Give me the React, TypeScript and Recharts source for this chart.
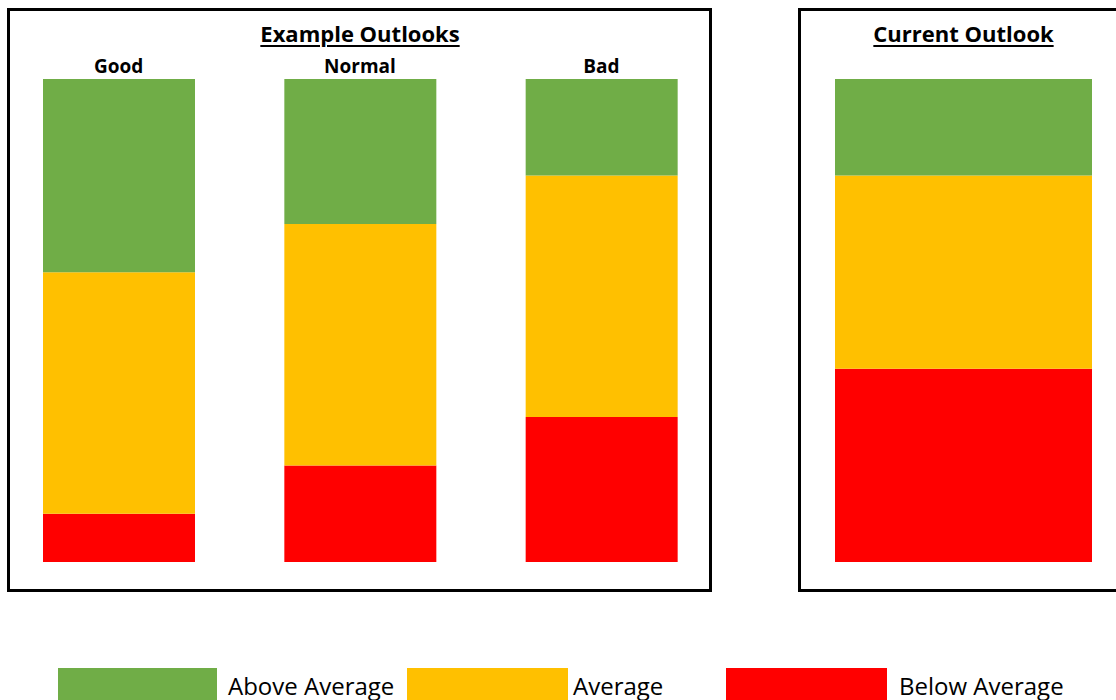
import React from 'react';
import { BarChart, Bar, XAxis, YAxis } from 'recharts';

// outlook scenarios, % of each band
const exampleCategories = ['Good', 'Normal', 'Bad'];
const exampleBelow = [10, 20, 30];
const exampleAverage = [50, 50, 50];
const exampleAbove = [40, 30, 20];

const currentCategories = ['Current'];
const currentBelow = [40];
const currentAverage = [40];
const currentAbove = [20];

const seriesNames = ['Above Average', 'Average', 'Below Average'];
const seriesColors = ['#70AD47', '#FFC000', '#FF0000'];

const FONT = '"Open Sans", "Noto Sans", sans-serif';

const buildRows = (cats: string[], below: number[], avg: number[], above: number[]) =>
    cats.map((name, i) => ({ name, below: below[i], average: avg[i], above: above[i] }));

const exampleData = buildRows(exampleCategories, exampleBelow, exampleAverage, exampleAbove);
const currentData = buildRows(currentCategories, currentBelow, currentAverage, currentAbove);

const CatTick = ({ x, y, payload, show }: any) =>
    show ? (
        <text x={x} y={y} textAnchor="middle" fontFamily={FONT} fontWeight={700} fontSize={19} fill="#000">
            {payload.value}
        </text>
    ) : null;

function StackedOutlook({ data, width, barSize, showTicks }: any) {
    return (
        <BarChart width={width} height={562} data={data} margin={{ top: 49, right: 0, bottom: 0, left: 0 }} barCategoryGap={0}>
            <XAxis
                dataKey="name"
                orientation="top"
                height={30}
                axisLine={false}
                tickLine={false}
                tickSize={0}
                tickMargin={6}
                interval={0}
                tick={<CatTick show={showTicks} />}
            />
            <YAxis hide domain={[0, 100]} />
            <Bar dataKey="below" stackId="s" fill={seriesColors[2]} barSize={barSize} isAnimationActive={false} />
            <Bar dataKey="average" stackId="s" fill={seriesColors[1]} barSize={barSize} isAnimationActive={false} />
            <Bar dataKey="above" stackId="s" fill={seriesColors[0]} barSize={barSize} isAnimationActive={false} />
        </BarChart>
    );
}

const titleStyle = (center: number): React.CSSProperties => ({
    position: 'absolute',
    left: center - 150,
    width: 300,
    top: 18,
    textAlign: 'center',
    fontFamily: FONT,
    fontWeight: 700,
    fontSize: 22,
    textDecoration: 'underline',
    textDecorationThickness: '2px',
    textUnderlineOffset: '3px',
    color: '#000',
});

// legend swatch / label placement
const legendLeft = [58, 407, 726];
const legendWidth = [159, 161, 161];
const legendTextX = [228, 573, 899];

export default function App() {
    return (
        <div style={{ position: 'absolute', left: 0, top: 0, width: 1116, height: 700, overflow: 'hidden', background: '#fff' }}>
            <div style={{ position: 'absolute', left: 7, top: 8, width: 705, height: 584, border: '3px solid #000', boxSizing: 'border-box' }} />
            <div style={{ position: 'absolute', left: 798, top: 8, width: 400, height: 584, border: '3px solid #000', boxSizing: 'border-box' }} />

            <div style={titleStyle(360)}>Example Outlooks</div>
            <div style={titleStyle(963.5)}>Current Outlook</div>

            <div style={{ position: 'absolute', left: -2, top: 0 }}>
                <StackedOutlook data={exampleData} width={724} barSize={152} showTicks />
            </div>
            <div style={{ position: 'absolute', left: 795, top: 0 }}>
                <StackedOutlook data={currentData} width={337} barSize={257} showTicks={false} />
            </div>

            <svg style={{ position: 'absolute', left: 0, top: 640 }} width={1116} height={60}>
                {seriesNames.map((name, i) => (
                    <g key={name}>
                        <rect x={legendLeft[i]} y={28} width={legendWidth[i]} height={40} fill={seriesColors[i]} />
                        <text x={legendTextX[i]} y={55} fontFamily={FONT} fontSize={24} fill="#000">
                            {name}
                        </text>
                    </g>
                ))}
            </svg>
        </div>
    );
}
